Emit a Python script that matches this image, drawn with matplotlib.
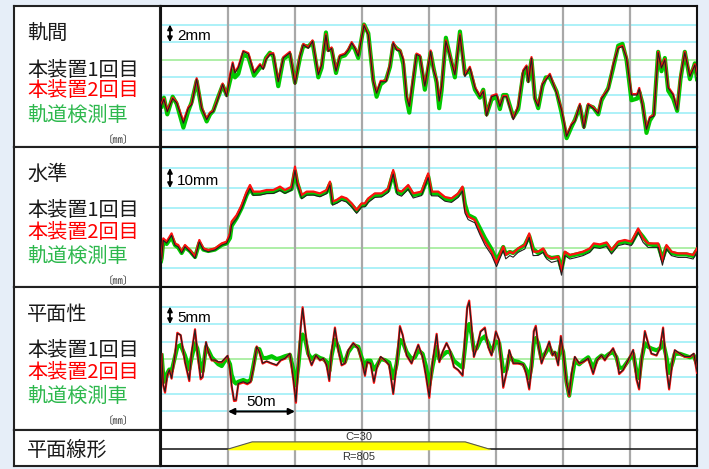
import matplotlib
matplotlib.use("Agg")
import matplotlib.pyplot as plt

plt.rcParams['font.family'] = ['Noto Sans CJK JP', 'DejaVu Sans']

# ---- data (distance in m, values in mm) ----
x1 = [0.5, 2.2, 4.7, 8.7, 11.7, 16.7, 20.4, 22.9, 26.6, 30.3,
      34.1, 36.6, 39.0, 42.0, 46.0, 49.0, 51.5, 53.5, 55.2, 57.7,
      61.4, 65.2, 69.4, 73.9, 76.3, 78.3, 81.3, 83.8, 87.5, 91.3,
      96.2, 100.0, 103.7, 106.2, 109.9, 113.1, 117.4, 119.9, 123.1, 124.8,
      127.3, 130.6, 133.5, 137.3, 139.8, 142.3, 144.7, 147.2, 151.5, 154.7,
      158.4, 160.9, 163.9, 167.9, 170.9, 173.3, 175.8, 178.3, 180.8, 183.3,
      185.3, 187.8, 190.7, 193.2, 196.9, 199.4, 201.2, 203.2, 205.7, 207.6,
      209.4, 212.6, 215.6, 219.3, 223.1, 226.8, 230.5, 234.3, 238.0, 240.5,
      243.0, 246.7, 250.4, 252.9, 255.4, 257.9, 262.9, 266.6, 270.3, 272.8,
      274.1, 276.5, 279.0, 281.5, 284.7, 287.2, 290.2, 295.2, 298.9, 302.7,
      306.4, 308.9, 312.6, 315.6, 318.8, 322.5, 326.3, 328.8, 333.8, 337.5,
      341.2, 344.4, 347.4, 351.1, 355.4, 356.9, 359.4, 362.3, 364.8, 367.8,
      371.0, 373.5, 376.0, 378.5, 382.2, 385.2, 387.7, 390.9, 394.7, 398.4,
      400.0]
gauge_run1 = [-5.1, -4.5, -5.9, -4.4, -4.9, -7.2, -5.5, -5.1, -2.2, -5.5,
              -6.8, -6.1, -5.9, -4.7, -2.8, -4.2, -1.9, -0.4, -1.5, -0.9,
              0.95, 0.65, -1.5, -0.6, -1.1, 0.0, 0.6, 0.65, -2.5, 0.2,
              0.8, -2.8, 0.4, 1.7, 1.3, 2.1, -1.7, -0.6, 2.8, 0.95,
              1.3, -1.3, 0.4, 0.6, 1.1, 1.9, 1.3, 0.4, 3.9, 2.8,
              -2.5, -3.8, -2.5, -2.5, -0.6, 1.9, 1.1, 1.0, 0.0, -4.2,
              -5.3, -2.6, 0.6, 0.4, -3.0, -0.75, 0.95, -1.1, -2.3, -4.7,
              -3.0, 2.1, 0.4, -1.7, 2.8, -1.9, -0.9, -3.2, -4.2, -3.6,
              -6.4, -4.2, -4.0, -5.3, -4.2, -4.2, -6.8, -5.3, -1.3, -0.75,
              -2.6, 0.2, -4.5, -5.3, -2.8, -2.3, -1.7, -3.8, -5.7, -8.7,
              -7.4, -7.0, -5.1, -7.8, -5.1, -5.5, -6.1, -4.4, -3.4, -0.6,
              1.3, 1.5, 0.2, -4.0, -4.0, -3.3, -5.3, -7.9, -6.6, -6.4,
              0.8, -0.95, 0.0, -3.2, -4.0, -5.7, -1.9, 0.8, -1.9, -0.6,
              -1.9]
gauge_run2 = [-5.0, -4.4, -5.8, -4.3, -4.8, -7.0, -5.4, -5.0, -2.1, -5.4,
              -6.7, -6.0, -5.8, -4.6, -2.7, -4.1, -1.7, -0.3, -1.4, -0.8,
              1.0, 0.75, -1.4, -0.5, -1.0, 0.1, 0.7, 0.75, -2.4, 0.3,
              0.9, -2.7, 0.5, 1.8, 1.4, 2.2, -1.6, -0.5, 2.9, 1.0,
              1.4, -1.2, 0.5, 0.7, 1.2, 2.0, 1.4, 0.5, 4.0, 2.9,
              -2.4, -3.7, -2.4, -2.4, -0.5, 2.0, 1.2, 1.1, 0.1, -4.1,
              -5.2, -2.5, 0.7, 0.5, -2.9, -0.65, 1.05, -1.0, -2.2, -4.6,
              -2.9, 2.2, 0.5, -1.6, 2.9, -1.8, -0.8, -3.1, -4.1, -3.5,
              -6.3, -4.1, -3.9, -5.2, -4.1, -4.1, -6.7, -5.2, -1.2, -0.65,
              -2.5, 0.3, -4.4, -5.2, -2.7, -2.2, -1.6, -3.7, -5.6, -8.6,
              -7.3, -6.9, -5.0, -7.7, -5.0, -5.4, -6.0, -4.3, -3.3, -0.5,
              1.4, 1.6, 0.3, -3.9, -3.9, -3.2, -5.2, -7.8, -6.5, -6.3,
              0.9, -0.85, 0.1, -3.1, -3.9, -5.6, -1.8, 0.9, -1.8, -0.5,
              -1.8]
gauge_car = [-5.3, -4.3, -6.2, -4.2, -5.0, -7.7, -5.8, -4.8, -2.4, -5.6,
             -7.0, -6.2, -5.8, -4.5, -2.9, -4.0, -2.4, -1.2, -2.0, -1.6,
             0.6, 0.3, -1.8, -0.9, -0.8, 0.2, 0.8, 0.4, -3.0, 0.1,
             0.6, -2.6, 0.2, 1.6, 1.5, 2.0, -2.0, -0.9, 3.1, 1.1,
             1.2, -1.5, 0.3, 0.5, 1.0, 1.7, 1.2, 0.2, 4.0, 3.0,
             -2.3, -4.2, -2.8, -2.3, -0.8, 1.7, 1.3, 1.0, -0.5, -4.5,
             -6.0, -3.0, 0.5, 0.3, -3.4, -1.0, 0.8, -0.8, -2.6, -5.5,
             -3.5, 2.5, 0.5, -2.0, 3.2, -1.6, -1.2, -3.4, -4.3, -3.4,
             -6.2, -4.5, -4.2, -5.6, -4.0, -4.0, -6.5, -5.6, -1.6, -0.9,
             -2.4, 0.0, -4.3, -5.5, -3.0, -2.0, -2.0, -3.6, -6.0, -8.9,
             -7.6, -6.8, -5.3, -7.6, -5.2, -5.4, -6.2, -4.6, -3.2, -0.9,
             1.6, 1.8, 0.0, -4.6, -4.4, -3.6, -5.0, -8.3, -6.9, -6.2,
             0.9, -1.3, 0.2, -3.5, -4.4, -5.8, -2.2, 0.9, -2.2, -0.4,
             -2.2]

x2 = [0, 0.5, 1.7, 4.2, 7.9, 10.4, 12.9, 15.4, 17.9, 21.6,
      25.4, 28.6, 31.6, 35.3, 40.3, 45.3, 49.0, 51.5, 52.7, 56.5,
      60.2, 63.9, 66.4, 68.9, 73.9, 78.8, 83.8, 88.8, 92.5, 97.5,
      100.0, 101.7, 105.0, 108.7, 113.7, 118.6, 123.6, 126.1, 128.0, 131.0,
      134.8, 138.5, 142.3, 146.0, 149.7, 152.2, 154.7, 159.6, 164.6, 169.6,
      173.3, 176.3, 179.5, 184.5, 188.2, 194.4, 199.4, 201.9, 206.9, 211.9,
      216.8, 221.8, 225.0, 226.8, 229.2, 234.2, 237.9, 241.7, 246.6, 250.4,
      252.9, 255.4, 257.3, 260.3, 262.8, 266.5, 271.5, 274.8, 277.7, 281.5,
      285.2, 287.7, 291.4, 296.4, 298.9, 301.4, 305.1, 310.1, 315.0, 320.0,
      323.0, 327.5, 332.5, 336.2, 341.2, 346.1, 351.1, 356.1, 359.8, 363.5,
      367.3, 371.0, 374.2, 377.2, 380.9, 385.9, 392.1, 397.1, 400.0]
level_run1 = [-6.8, -5.0, 3.8, 2.4, 6.3, 1.4, 0.5, -2.6, 0.6, -1.9,
              -5.2, 3.0, -1.0, -1.9, -1.0, 1.4, 2.3, 6.0, 11.5, 14.8,
              19.8, 26.3, 29.8, 26.3, 26.5, 27.2, 27.3, 28.8, 27.3, 29.0,
              38.8, 31.5, 24.6, 26.4, 26.5, 25.6, 27.2, 31.5, 21.4, 22.3,
              23.8, 23.0, 20.5, 17.3, 20.5, 20.6, 22.8, 25.3, 25.5, 27.8,
              37.0, 26.8, 25.9, 29.4, 25.0, 26.2, 35.2, 26.1, 26.0, 23.4,
              22.8, 25.3, 28.5, 17.5, 14.2, 12.6, 6.8, 1.5, -3.4, -9.3,
              -5.3, -1.3, -5.4, -3.8, -4.6, -2.2, -0.5, 5.3, -3.8, -3.7,
              -2.2, -5.4, -7.2, -6.3, -13.6, -3.8, -5.5, -4.7, -3.8, -2.2,
              0.3, -0.2, 0.8, -3.0, 1.2, 2.0, 1.3, 7.8, 2.8, 0.3,
              0.3, 0.3, -8.6, -0.5, -3.8, -4.7, -4.7, -5.5, -2.2]
level_run2 = [-6.0, -4.3, 4.8, 3.2, 7.3, 2.3, 1.5, -1.8, 1.5, -1.0,
              -4.3, 4.0, -0.2, -1.0, -0.2, 2.3, 3.2, 7.3, 13.2, 16.5,
              21.5, 28.2, 31.5, 28.2, 28.2, 29.0, 29.0, 30.7, 29.0, 30.7,
              40.7, 33.2, 26.5, 28.2, 28.2, 27.3, 29.0, 33.2, 23.2, 24.0,
              25.7, 24.8, 22.3, 19.0, 22.3, 22.3, 24.8, 27.3, 27.3, 29.8,
              39.0, 29.0, 28.2, 31.5, 27.3, 28.2, 37.3, 28.2, 28.2, 25.5,
              24.8, 27.3, 30.7, 19.0, 15.7, 14.0, 8.2, 3.2, -1.8, -7.7,
              -3.5, 0.7, -3.5, -1.8, -2.7, -0.2, 1.5, 7.3, -1.8, -1.8,
              -0.2, -3.5, -5.2, -4.3, -11.8, -1.8, -3.5, -2.7, -1.8, -0.2,
              2.3, 1.8, 2.8, -1.0, 3.2, 4.0, 3.2, 9.8, 4.8, 2.3,
              2.3, 2.3, -6.8, 1.5, -1.8, -2.7, -2.7, -3.5, -0.2]
level_car = [-6.5, -5.0, 3.5, 2.0, 5.5, 1.5, 0.2, -2.5, 0.5, -1.5,
             -4.5, 2.5, -0.8, -1.5, -0.8, 1.5, 2.3, 5.0, 11.0, 15.0,
             20.0, 26.5, 29.5, 27.0, 27.2, 28.0, 28.0, 29.5, 28.0, 29.5,
             38.5, 32.5, 25.5, 27.2, 27.2, 26.5, 28.0, 32.0, 22.5, 23.2,
             24.8, 24.0, 21.5, 18.5, 21.5, 21.5, 24.0, 26.5, 26.5, 28.8,
             37.5, 28.0, 27.2, 30.3, 26.5, 27.2, 35.8, 27.2, 27.2, 24.5,
             24.0, 26.5, 29.8, 22.0, 16.5, 14.8, 10.0, 5.0, -0.5, -6.0,
             -3.0, 0.5, -3.0, -2.0, -2.5, -0.8, 1.5, 6.0, -0.5, -2.5,
             -1.0, -4.0, -5.0, -4.5, -10.5, -2.5, -4.0, -3.2, -2.5, -1.0,
             1.2, 1.0, 2.0, -1.5, 2.5, 3.2, 2.5, 8.5, 5.5, 2.0,
             1.5, 1.5, -5.5, 0.5, -2.5, -3.2, -3.2, -4.0, -1.0]

x3 = [0.5, 1.7, 3.0, 4.7, 6.2, 7.9, 10.4, 12.2, 14.7, 17.9,
      21.1, 22.9, 25.4, 27.1, 29.6, 31.1, 33.6, 35.3, 37.8, 40.3,
      42.8, 45.3, 47.7, 49.7, 51.5, 52.7, 54.5, 56.0, 57.7, 61.4,
      64.4, 66.9, 68.9, 71.4, 73.4, 75.8, 78.8, 82.6, 86.3, 89.3,
      92.5, 96.2, 98.7, 100.7, 102.5, 104.2, 105.7, 107.4, 109.9, 112.4,
      115.6, 118.6, 121.1, 123.6, 125.6, 127.3, 129.8, 132.3, 134.8, 137.3,
      139.8, 143.5, 147.2, 149.7, 152.2, 153.9, 156.4, 158.9, 160.9, 163.9,
      167.1, 170.3, 173.3, 175.8, 178.3, 180.3, 183.3, 187.0, 189.5, 192.0,
      195.2, 197.7, 200.2, 202.7, 205.7, 207.7, 210.1, 213.1, 215.6, 218.6,
      221.8, 225.1, 226.8, 228.5, 230.0, 231.8, 233.5, 235.5, 238.5, 241.7,
      244.2, 246.7, 249.9, 252.4, 255.4, 257.9, 259.9, 262.9, 266.6, 270.3,
      272.5, 274.8, 276.5, 278.2, 279.7, 281.5, 284.0, 286.5, 289.7, 292.2,
      293.9, 296.4, 298.4, 300.1, 302.6, 304.6, 306.4, 308.8, 312.1, 315.1,
      318.8, 322.5, 325.5, 328.7, 331.2, 334.5, 337.4, 339.9, 341.9, 344.9,
      348.6, 352.4, 354.8, 356.8, 358.6, 361.1, 363.5, 366.0, 369.8, 372.3,
      374.7, 377.2, 379.2, 381.7, 383.4, 387.2, 390.9, 394.7, 397.6, 400.0]
twist_run1 = [1.6, -7.4, -9.3, -4.6, -3.1, -5.5, 1.1, 7.3, 6.9, -0.8,
              -6.0, 2.1, 8.3, 2.1, -5.5, -5.0, 4.9, 2.1, -0.3, -0.3,
              -0.8, -0.8, 0.2, 1.0, -2.7, -7.4, -11.7, -11.7, -7.0, -6.5,
              -7.0, -6.5, -2.7, 3.5, 2.1, -1.2, -0.6, -1.2, -1.7, -0.3,
              0.2, 1.6, -5.5, -12.2, -1.7, 8.8, 14.5, 8.8, 1.1, -1.7,
              1.1, -0.3, 0.2, -1.7, -6.0, 2.1, 8.8, 2.6, -1.7, -1.2,
              2.6, 4.5, 3.0, -0.3, -4.6, -0.8, -1.2, -6.5, -2.7, 0.7,
              -0.3, -1.7, -9.8, -1.7, 9.2, 6.9, 1.1, -1.2, 1.6, 4.0,
              0.7, -4.6, -10.8, -0.8, 7.0, -0.8, 2.1, 4.5, 2.6, -2.2,
              -3.1, -4.6, 5.9, 14.5, 16.4, 9.2, 0.7, 3.0, 7.8, 8.8,
              3.5, 1.1, 7.8, 5.4, -7.9, -3.6, 2.6, -1.2, -1.2, -1.5,
              -4.0, -8.4, -2.7, 7.8, 9.2, 4.0, -1.2, 1.6, 4.9, 1.1,
              2.1, -1.7, 6.4, 2.1, -6.5, -10.3, -4.1, 0.7, -1.2, -0.8,
              0.2, -4.1, -0.3, 1.1, -0.3, 1.6, 3.0, 0.7, -4.1, -3.1,
              -0.3, 2.6, -5.5, -8.4, -0.3, 7.8, 4.5, 1.6, 1.1, 3.0,
              8.8, -2.7, -8.4, -0.8, 2.6, 1.6, 0.7, 0.7, 1.6, -3.6]
twist_run2 = [1.4, -7.6, -9.6, -4.8, -3.2, -5.6, 1.0, 7.5, 6.8, -0.9,
              -6.3, 2.0, 8.5, 2.0, -5.8, -5.2, 4.8, 2.0, -0.4, -0.4,
              -0.9, -0.9, 0.1, 0.9, -2.9, -7.7, -12.0, -11.9, -7.2, -6.7,
              -7.2, -6.6, -2.8, 3.6, 2.0, -1.3, -0.7, -1.3, -1.8, -0.4,
              0.1, 1.5, -5.8, -12.5, -1.8, 9.0, 14.8, 8.9, 1.0, -1.8,
              1.0, -0.4, 0.1, -1.8, -6.3, 2.0, 9.0, 2.5, -1.8, -1.3,
              2.5, 4.6, 3.0, -0.4, -4.8, -0.9, -1.3, -6.8, -2.8, 0.6,
              -0.4, -1.8, -10.0, -1.8, 9.4, 7.0, 1.0, -1.3, 1.5, 4.1,
              0.6, -4.8, -11.1, -0.9, 7.2, -0.9, 2.0, 4.6, 2.5, -2.3,
              -3.2, -4.8, 6.0, 14.8, 16.7, 9.3, 0.6, 3.0, 7.9, 9.0,
              3.4, 1.0, 7.9, 5.3, -8.2, -3.8, 2.5, -1.3, -1.3, -1.6,
              -4.2, -8.7, -2.8, 8.0, 9.5, 4.1, -1.3, 1.5, 5.0, 1.0,
              2.0, -1.8, 6.6, 2.0, -6.7, -10.6, -4.2, 0.6, -1.3, -0.9,
              0.1, -4.3, -0.4, 1.0, -0.4, 1.5, 3.1, 0.6, -4.3, -3.2,
              -0.4, 2.6, -5.8, -8.7, -0.4, 8.0, 4.6, 1.5, 1.0, 3.1,
              9.0, -2.8, -8.7, -0.9, 2.5, 1.5, 0.6, 0.6, 1.5, -3.9]
twist_car = [1.0, -5.0, -6.5, -4.0, -3.0, -3.5, 0.5, 3.5, 4.0, 1.0,
             -3.0, 0.5, 4.5, 3.0, -2.5, -3.5, 3.5, 2.5, 0.5, -0.5,
             -1.5, -2.0, -0.5, 0.0, -1.5, -4.5, -6.5, -7.0, -6.5, -6.0,
             -6.5, -6.0, -2.0, 3.0, 2.8, 0.3, 0.3, 0.8, 0.0, 0.3,
             0.8, 1.2, -3.0, -7.5, -2.0, 5.0, 7.0, 6.0, 1.5, 0.0,
             1.0, 0.3, 0.0, -0.8, -3.5, 1.0, 5.5, 3.5, 0.0, -0.8,
             2.0, 4.0, 3.5, 0.5, -2.5, -0.5, -0.5, -3.0, -2.0, 0.0,
             -0.3, -1.0, -5.5, -1.5, 5.5, 5.0, 2.0, 0.0, 0.5, 2.5,
             1.5, -2.0, -7.5, -2.0, 3.5, 0.0, 1.0, 2.0, 2.0, -0.5,
             -1.5, -2.5, 3.0, 9.0, 10.0, 7.0, 2.5, 3.0, 5.5, 6.5,
             4.5, 2.0, 5.0, 4.5, -3.5, -3.0, 1.0, -0.5, -0.8, -1.5,
             -3.0, -5.5, -2.0, 4.5, 6.0, 4.5, 0.0, 1.5, 3.5, 1.5,
             1.8, 0.0, 4.0, 2.0, -6.5, -10.5, -6.0, -0.5, -1.5, -0.5,
             0.5, -2.5, 0.0, 1.0, 0.5, 1.5, 2.0, 0.5, -2.5, -2.5,
             -0.5, 1.5, -3.5, -5.5, 0.0, 4.5, 3.5, 3.0, 2.5, 3.0,
             4.8, 0.5, -4.0, -1.0, 1.5, 1.5, 1.0, 0.5, 1.0, -1.5]

# plane alignment (transition - circular curve - transition)
curve_x = [50, 68, 227, 245]
curve_lvl = [0, 1, 1, 0]

panel_names = ['軌間', '水準', '平面性']
series_names = ['本装置1回目', '本装置2回目', '軌道検測車']
scale_labels = ['2mm', '10mm', '5mm']
scale_steps = [2, 10, 5]
gridx = [50, 100, 150, 200, 250, 300, 350]

# ---- layout ----
W, H = 709, 469
fig = plt.figure(figsize=(W / 100, H / 100), dpi=100)
fig.patch.set_facecolor('#e6eef8')


def px_axes(x0, y0, x1, y1):
    return fig.add_axes([x0 / W, 1 - y1 / H, (x1 - x0) / W, (y1 - y0) / H])


rows = [(6, 147), (147, 287), (287, 430), (430, 466)]
ylims = [(-9.9, 6.1), (-19.5, 50.5), (-20.3, 20.6)]
cyan_levels = [[4, 2, -2, -4, -6, -8],
               [50, 40, 30, 20, 10, -10],
               [15, 10, 5, -5, -10, -15]]
data = [(x1, gauge_run1, gauge_run2, gauge_car),
        (x2, level_run1, level_run2, level_car),
        (x3, twist_run1, twist_run2, twist_car)]
label_colors = ['#1a1a1a', '#ff0000', '#2db84d']

for i in range(3):
    top, bot = rows[i]
    hpx = bot - top
    # label cell
    lab = px_axes(14, top, 160, bot)
    lab.set_xticks([]); lab.set_yticks([])
    for s in lab.spines.values():
        s.set_color('#222222'); s.set_linewidth(1.5)
    lab.text(13 / 146, 1 - 27 / hpx, panel_names[i], transform=lab.transAxes,
             fontsize=14.5, va='center', ha='left', color='#1a1a1a')
    for k, off in enumerate([64, 85, 109]):
        lab.text(13 / 146, 1 - off / hpx, series_names[k], transform=lab.transAxes,
                 fontsize=14.5, va='center', ha='left', color=label_colors[k])
    lab.text(104 / 146, 1 - 134 / hpx, '〔㎜〕', transform=lab.transAxes,
             fontsize=7.5, va='center', ha='center', color='#333333')

    # plot cell
    ax = px_axes(161, top, 697, bot)
    ax.set_xlim(0, 400)
    ax.set_ylim(*ylims[i])
    ax.set_xticks([]); ax.set_yticks([])
    for s in ax.spines.values():
        s.set_color('#111111'); s.set_linewidth(1.5)
    for yv in cyan_levels[i]:
        ax.axhline(yv, color='#a6f0f8', lw=1.3, zorder=0)
    ax.axhline(0, color='#a8eea0', lw=1.3, zorder=0)
    for xv in gridx:
        ax.axvline(xv, color='#a8a8a8', lw=1.6, zorder=0.5)
    xs, r1, r2, car = data[i]
    ax.plot(xs, car, color='#00c800', lw=3.0, zorder=2, solid_joinstyle='round')
    ax.plot(xs, r2, color='#ff1010', lw=1.6, zorder=3, solid_joinstyle='round')
    ax.plot(xs, r1, color='#202020', lw=0.8, zorder=4, solid_joinstyle='round')

    # scale arrow
    step = scale_steps[i]
    ytop = cyan_levels[i][0] if i != 1 else 40
    ax.annotate('', xy=(6.7, ytop), xytext=(6.7, ytop - step),
                arrowprops=dict(arrowstyle='<|-|>', color='black', lw=1.3,
                                mutation_scale=7, shrinkA=0, shrinkB=0), zorder=5)
    ax.text(12.0, ytop - step * 0.65, scale_labels[i], fontsize=11,
            family='Liberation Sans', va='center', ha='left', zorder=5)

    if i == 2:
        ax.annotate('', xy=(50, -15), xytext=(100, -15),
                    arrowprops=dict(arrowstyle='<|-|>', color='black', lw=1.5,
                                    mutation_scale=9, shrinkA=0, shrinkB=0), zorder=5)
        ax.text(75, -12.4, '50m', fontsize=11, family='Liberation Sans',
                va='center', ha='center', zorder=5)

# plane alignment row
top, bot = rows[3]
lab = px_axes(14, top, 160, bot)
lab.set_xticks([]); lab.set_yticks([])
for s in lab.spines.values():
    s.set_color('#222222'); s.set_linewidth(1.5)
lab.text(13 / 146, 0.44, '平面線形', transform=lab.transAxes, fontsize=14.5,
         va='center', ha='left', color='#1a1a1a')

ax4 = px_axes(161, top, 697, bot)
ax4.set_xlim(0, 400)
ax4.set_ylim(0, 1)
ax4.set_xticks([]); ax4.set_yticks([])
for s in ax4.spines.values():
    s.set_color('#111111'); s.set_linewidth(1.5)
for xv in gridx:
    ax4.axvline(xv, color='#a8a8a8', lw=1.6, zorder=0.5)
ax4.axhline(0.47, color='#222222', lw=1.2, zorder=1)
base = 0.47
ytrap = [base + 0.2 * v for v in curve_lvl]
ax4.fill_between(curve_x, base, ytrap, color='#ffff00', zorder=2)
ax4.plot(curve_x, ytrap, color='#555555', lw=0.8, zorder=3)
mid = (curve_x[0] + curve_x[-1]) / 2
ax4.text(mid, 0.8, 'C=30', fontsize=8, family='Liberation Sans', color='#333333',
         ha='center', va='center', zorder=4)
ax4.text(mid, 0.25, 'R=805', fontsize=8, family='Liberation Sans', color='#333333',
         ha='center', va='center', zorder=4)

fig.savefig('out.png', dpi=100, facecolor=fig.get_facecolor())
